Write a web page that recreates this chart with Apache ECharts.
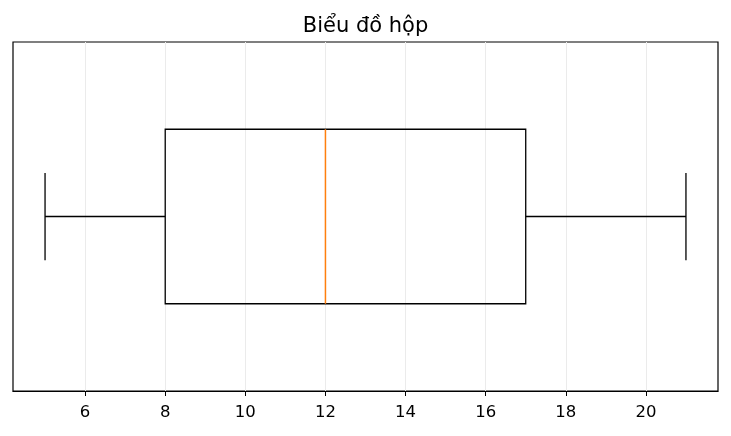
<!DOCTYPE html>
<html>
<head>
<meta charset="utf-8">
<script src="https://cdn.jsdelivr.net/npm/echarts@6/dist/echarts.min.js"></script>
<style>
  html, body { margin: 0; padding: 0; background: #fff; }
  #chart { width: 731px; height: 436px; }
</style>
</head>
<body>
<div id="chart"></div>
<script>
// five-number summary: low whisker, Q1, median, Q3, high whisker
var boxStats = [5, 8, 12, 17, 21];
var boxPosition = 1;
var xTicks = [6, 8, 10, 12, 14, 16, 18, 20];

var chart = echarts.init(document.getElementById('chart'));

function renderBox(params, api) {
    var pos = api.value(0);
    var lo = api.value(1), q1 = api.value(2), med = api.value(3), q3 = api.value(4), hi = api.value(5);
    var half = 0.25, capHalf = 0.125;
    var tl = api.coord([q1, pos + half]);
    var br = api.coord([q3, pos - half]);
    var c = function (v, p) { return api.coord([v, p]); };
    var lineStyle = { stroke: '#000', lineWidth: 1.3, fill: null };
    return {
        type: 'group',
        children: [
            { type: 'rect', shape: { x: tl[0], y: tl[1], width: br[0] - tl[0], height: br[1] - tl[1] }, style: lineStyle },
            { type: 'line', shape: { x1: c(lo, pos)[0], y1: c(lo, pos)[1], x2: c(q1, pos)[0], y2: c(q1, pos)[1] }, style: lineStyle },
            { type: 'line', shape: { x1: c(q3, pos)[0], y1: c(q3, pos)[1], x2: c(hi, pos)[0], y2: c(hi, pos)[1] }, style: lineStyle },
            { type: 'line', shape: { x1: c(lo, pos + capHalf)[0], y1: c(lo, pos + capHalf)[1], x2: c(lo, pos - capHalf)[0], y2: c(lo, pos - capHalf)[1] }, style: lineStyle },
            { type: 'line', shape: { x1: c(hi, pos + capHalf)[0], y1: c(hi, pos + capHalf)[1], x2: c(hi, pos - capHalf)[0], y2: c(hi, pos - capHalf)[1] }, style: lineStyle },
            { type: 'line', shape: { x1: c(med, pos + half)[0], y1: c(med, pos + half)[1], x2: c(med, pos - half)[0], y2: c(med, pos - half)[1] }, style: { stroke: '#ff7f0e', lineWidth: 1.5 } }
        ]
    };
}

var option = {
    animation: false,
    title: {
        text: 'Biểu đồ hộp',
        left: 'center',
        top: 11,
        textStyle: { fontFamily: 'DejaVu Sans', fontSize: 21, fontWeight: 'normal', color: '#000' }
    },
    grid: {
        left: 13,
        right: 13,
        top: 42,
        bottom: 45,
        show: true,
        borderColor: '#000',
        borderWidth: 1.2,
        containLabel: false
    },
    xAxis: {
        type: 'value',
        min: 4.2,
        max: 21.8,
        interval: 2,
        axisLine: { show: true, lineStyle: { color: '#000', width: 1.2 } },
        axisTick: { show: true, length: 5, lineStyle: { color: '#000' }, customValues: xTicks },
        axisLabel: {
            customValues: xTicks,
            color: '#000',
            fontFamily: 'DejaVu Sans',
            fontSize: 16.5,
            margin: 13
        },
        splitLine: { show: true, lineStyle: { color: '#ebebeb', width: 1 } }
    },
    yAxis: {
        type: 'value',
        min: 0.5,
        max: 1.5,
        axisLine: { show: false },
        axisTick: { show: false },
        axisLabel: { show: false },
        splitLine: { show: false }
    },
    series: [
        {
            type: 'custom',
            renderItem: renderBox,
            data: [[boxPosition].concat(boxStats)],
            encode: { x: [1, 2, 3, 4, 5], y: 0 }
        }
    ]
};
chart.setOption(option);
</script>
</body>
</html>
